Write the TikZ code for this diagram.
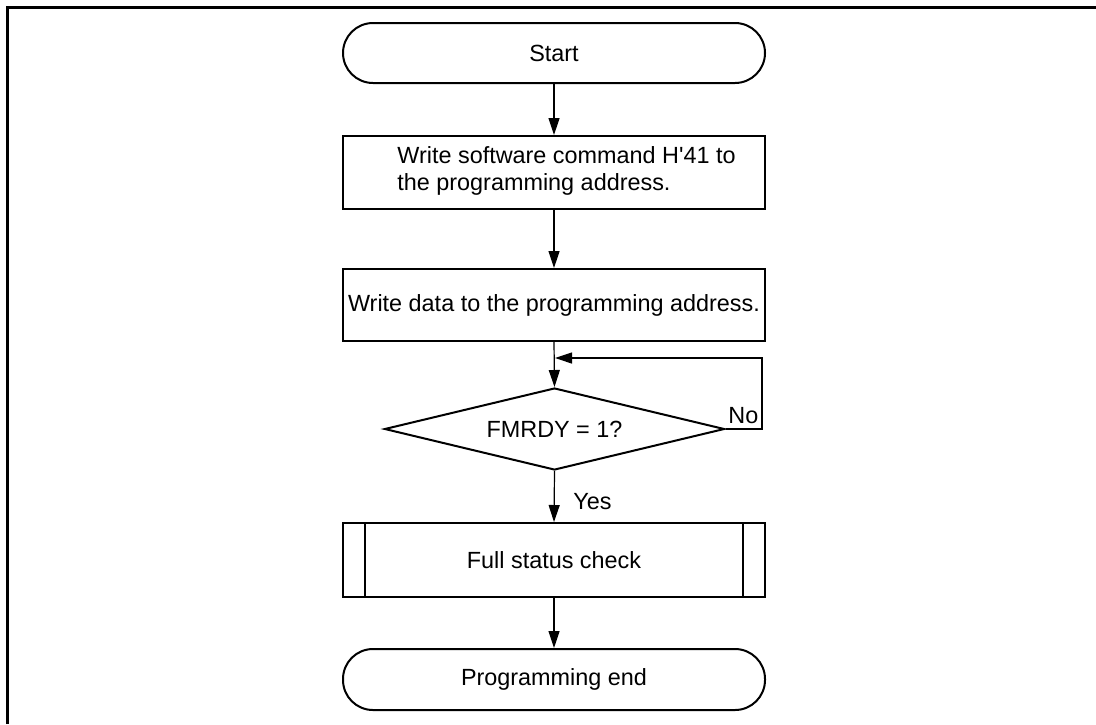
\documentclass[tikz,border=0pt]{standalone}
\usepackage{fontspec}
\setmainfont{Liberation Sans}[Ligatures=TeXOff]
\usetikzlibrary{shapes.geometric,arrows.meta,calc}
\begin{document}
\begin{tikzpicture}[x=0.5pt,y=-0.5pt,
  every node/.style={font=\fontsize{11.7}{13.8}\selectfont},
  term/.style={draw,line width=1pt,rounded corners=15pt,minimum width=211pt,minimum height=30pt,inner sep=0pt},
  box/.style={draw,line width=1pt,minimum width=211pt,inner sep=0pt},
  dec/.style={diamond,draw,line width=1pt,minimum width=170pt,minimum height=41pt,aspect=4.15,inner sep=0pt},
  conn/.style={line width=0.6pt,-{Triangle[length=8.5pt,width=5.5pt]}},
  lab/.style={inner sep=0pt,anchor=base west},
  frame/.style={line width=1.5pt}
]
\useasboundingbox (0,0) rectangle (1096,724);
\draw[frame] (7,724) -- (7,7) -- (1096,7);

\node[term] (start) at (554,53) {Start};
\node[box,minimum height=36.5pt] (b1) at (554,172.5) {};
\node[inner sep=0pt,align=left,anchor=west] (t1) at (397,171) {Write software command H'41 to\\the programming address.};
\node[box,minimum height=36pt] (b2) at (554,305) {Write data to the programming address.};
\node[dec] (d) at (554.5,429) {FMRDY = 1?};
\node[box,minimum height=37pt] (sub) at (554,560) {Full status check};
\draw[line width=1pt] ([xshift=11.5pt]sub.north west) -- ([xshift=11.5pt]sub.south west);
\draw[line width=1pt] ([xshift=-11.5pt]sub.north east) -- ([xshift=-11.5pt]sub.south east);
\node[term,minimum height=30.5pt] (end) at (554,679.5) {Programming end};

\coordinate (loopr) at (762,358);
\coordinate (loopin) at (555,358);

\draw[conn] (start.south) -- (b1.north);
\draw[conn] (b1.south) -- (b2.north);
\draw[conn] (b2.south) -- (d.north);
\draw[conn] (d.south) -- (sub.north);
\draw[conn] (sub.south) -- (end.north);
\draw[conn] (d.east) -| (loopr) -- (loopin);

\node[lab] (no) at (728,423) {No};
\node[lab] (yes) at (573,509) {Yes};
\end{tikzpicture}
\end{document}
